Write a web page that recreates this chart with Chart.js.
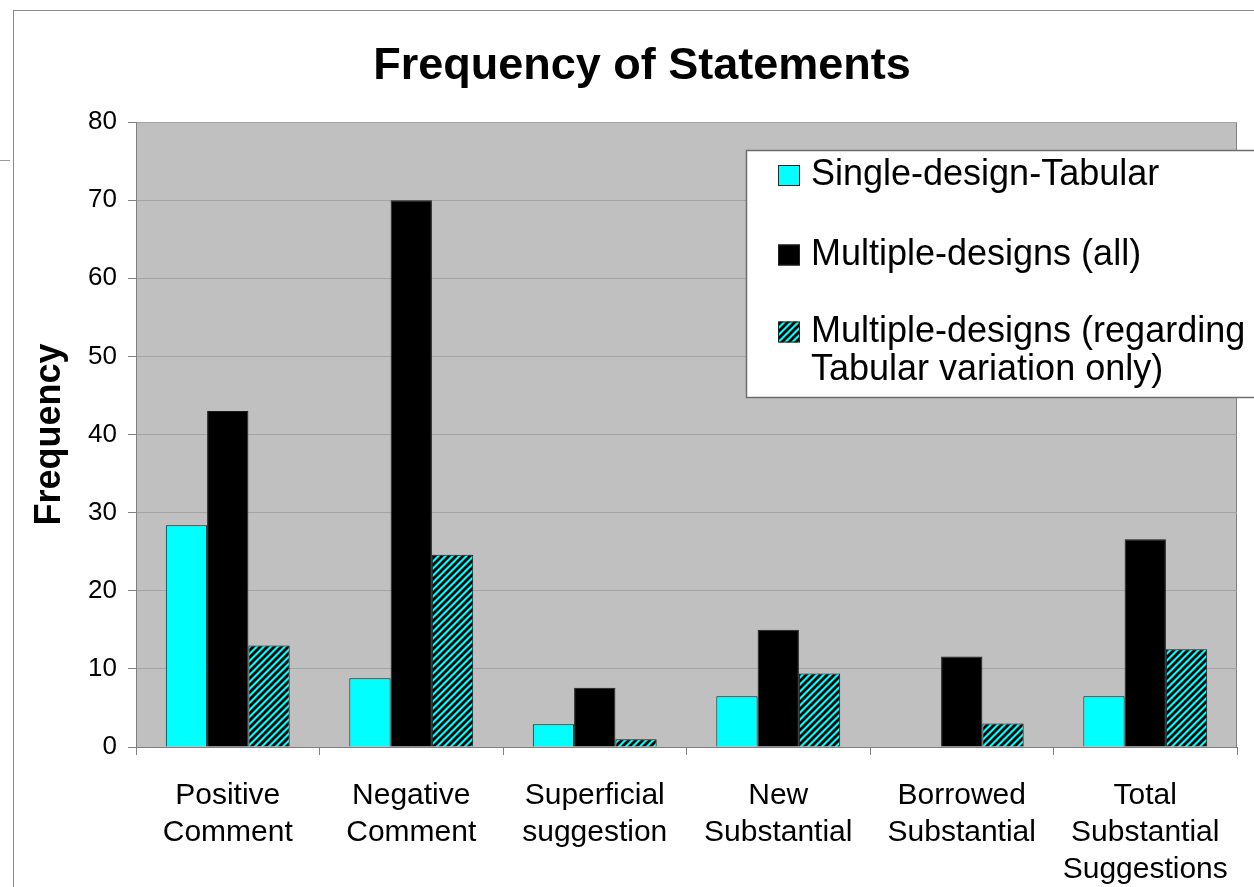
<!DOCTYPE html>
<html lang="en">
<head>
    <meta charset="UTF-8">
    <title>Frequency of Statements</title>
    <script src="https://cdn.jsdelivr.net/npm/chart.js"></script>
    <style>
        html, body { margin: 0; padding: 0; background: #fff; overflow: hidden; }
        #frame {
            position: absolute; left: 13px; top: 10px;
            border-left: 1px solid #8a8a8a; border-top: 1px solid #8a8a8a;
            width: 1256px; height: 876px;
        }
        #edge { position: absolute; left: 0; top: 160px; width: 10px; border-top: 1px solid #999; }
    </style>
</head>
<body>
    <div id="edge"></div>
    <div id="frame"><canvas id="freqChart" width="1256" height="876"></canvas></div>

    <script>
        const categories = [
            ['Positive', 'Comment'],
            ['Negative', 'Comment'],
            ['Superficial', 'suggestion'],
            ['New', 'Substantial'],
            ['Borrowed', 'Substantial'],
            ['Total', 'Substantial', 'Suggestions']
        ];
        const singleTabular = [28.4, 8.8, 2.9, 6.5, 0, 6.5];
        const multipleAll = [43, 70, 7.6, 15, 11.6, 26.6];
        const multipleTabular = [13, 24.6, 1, 9.4, 3, 12.5];

        const seriesNames = ['Single-design-Tabular', 'Multiple-designs (all)', 'Multiple-designs (regarding Tabular variation only)'];
        const legendLines = [
            ['Single-design-Tabular'],
            ['Multiple-designs (all)'],
            ['Multiple-designs (regarding', 'Tabular variation only)']
        ];

        const FONT = '"Liberation Sans", Arial, sans-serif';

        // diagonal black hatch on cyan
        function hatch() {
            const p = 7;
            const c = document.createElement('canvas');
            c.width = p; c.height = p;
            const g = c.getContext('2d');
            g.fillStyle = '#00ffff';
            g.fillRect(0, 0, p, p);
            g.strokeStyle = '#000';
            g.lineWidth = 2.8;
            g.beginPath();
            g.moveTo(-1, p + 1); g.lineTo(p + 1, -1);
            g.moveTo(-1, 1); g.lineTo(1, -1);
            g.moveTo(p - 1, p + 1); g.lineTo(p + 1, p - 1);
            g.stroke();
            return g.createPattern(c, 'repeat');
        }

        const plotBackground = {
            id: 'plotBackground',
            beforeDraw(chart) {
                const {ctx, chartArea: a} = chart;
                ctx.save();
                ctx.fillStyle = '#c0c0c0';
                ctx.fillRect(a.left, a.top, a.right - a.left, a.bottom - a.top);
                ctx.strokeStyle = '#808080';
                ctx.lineWidth = 1;
                ctx.beginPath();
                ctx.moveTo(a.left, a.top + 0.5);
                ctx.lineTo(a.right - 0.5, a.top + 0.5);
                ctx.lineTo(a.right - 0.5, a.bottom);
                ctx.stroke();
                ctx.restore();
            }
        };

        // boxed legend with wrapped labels
        const boxLegend = {
            id: 'boxLegend',
            afterDraw(chart) {
                const ctx = chart.ctx;
                const rowY = [[164.5], [244], [321, 359]];
                ctx.save();
                ctx.fillStyle = '#fff';
                ctx.fillRect(732, 139, 600, 247);
                ctx.strokeStyle = '#6e6e6e';
                ctx.lineWidth = 1.5;
                ctx.strokeRect(732.5, 139.5, 600, 247);
                ctx.font = '36px ' + FONT;
                ctx.textBaseline = 'middle';
                chart.data.datasets.forEach((ds, i) => {
                    const y = rowY[i][0];
                    ctx.fillStyle = ds.backgroundColor;
                    ctx.fillRect(764, y - 10.5, 22, 21);
                    ctx.strokeStyle = '#222';
                    ctx.lineWidth = 1;
                    ctx.strokeRect(764.5, y - 10, 21, 20);
                    ctx.fillStyle = '#000';
                    legendLines[i].forEach((line, k) => ctx.fillText(line, 797, rowY[i][k]));
                });
                ctx.restore();
            }
        };

        const ctx = document.getElementById('freqChart').getContext('2d');
        new Chart(ctx, {
            type: 'bar',
            data: {
                labels: categories,
                datasets: [
                    {label: seriesNames[0], data: singleTabular, backgroundColor: '#00ffff'},
                    {label: seriesNames[1], data: multipleAll, backgroundColor: '#000000'},
                    {label: seriesNames[2], data: multipleTabular, backgroundColor: hatch()}
                ].map(d => Object.assign(d, {
                    borderColor: '#1a1a1a',
                    borderWidth: 1,
                    borderSkipped: 'bottom',
                    barPercentage: 1,
                    categoryPercentage: 0.675
                }))
            },
            options: {
                responsive: false,
                animation: false,
                layout: {padding: {left: 33, right: 33, top: 0, bottom: 0}},
                plugins: {
                    legend: {display: false},
                    tooltip: {enabled: false},
                    title: {
                        display: true,
                        text: 'Frequency of Statements',
                        color: '#000',
                        font: {family: FONT, size: 45, weight: 'bold', lineHeight: 1.2},
                        padding: {top: 29, bottom: 28}
                    }
                },
                scales: {
                    x: {
                        afterFit: s => { s.height = 140; },
                        grid: {offset: true, drawOnChartArea: false, tickLength: 8, tickColor: '#808080'},
                        border: {color: '#808080'},
                        ticks: {
                            color: '#000',
                            padding: 22,
                            maxRotation: 0,
                            autoSkip: false,
                            font: {family: FONT, size: 30, lineHeight: 1.23}
                        }
                    },
                    y: {
                        min: 0,
                        max: 80,
                        afterFit: s => { s.width = 89; },
                        grid: {color: '#a4a4a4', tickLength: 8, tickColor: '#808080'},
                        border: {color: '#808080'},
                        ticks: {
                            stepSize: 10,
                            color: '#000',
                            padding: 11,
                            font: {family: FONT, size: 26}
                        },
                        title: {
                            display: true,
                            text: 'Frequency',
                            color: '#000',
                            padding: {top: -18.6, bottom: 0},
                            font: {family: FONT, size: 36, weight: 'bold', lineHeight: 1.2}
                        }
                    }
                }
            },
            plugins: [plotBackground, boxLegend]
        });
    </script>
</body>
</html>
